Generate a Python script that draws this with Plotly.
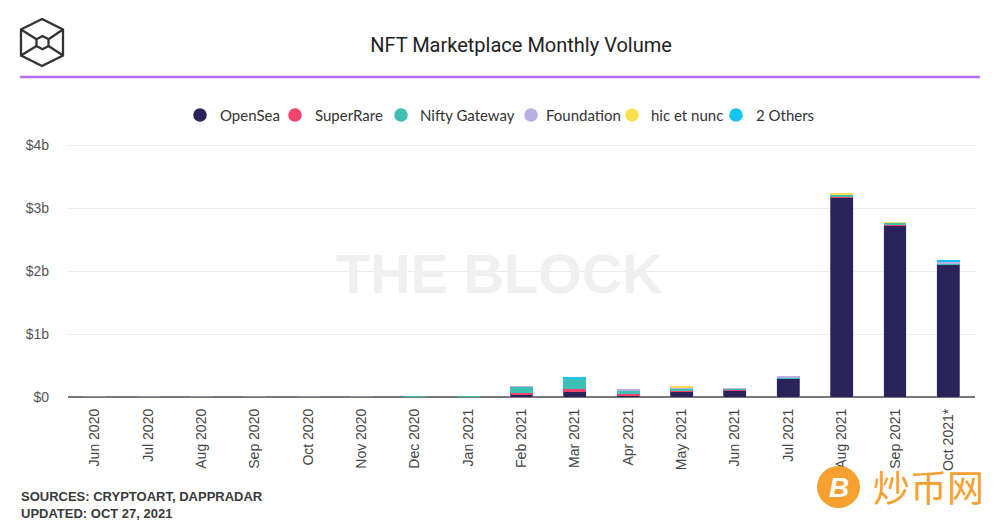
import plotly.graph_objects as go

months = ["Jun 2020", "Jul 2020", "Aug 2020", "Sep 2020", "Oct 2020", "Nov 2020",
          "Dec 2020", "Jan 2021", "Feb 2021", "Mar 2021", "Apr 2021", "May 2021",
          "Jun 2021", "Jul 2021", "Aug 2021", "Sep 2021", "Oct 2021*"]

# values in billions of USD
opensea = [0.001, 0.001, 0.001, 0.002, 0.002, 0.002, 0.003, 0.004, 0.045, 0.085,
           0.030, 0.090, 0.110, 0.290, 3.170, 2.730, 2.100]
superrare = [0.0, 0.0, 0.0, 0.0, 0.0, 0.0, 0.0, 0.0, 0.025, 0.045,
             0.015, 0.006, 0.003, 0.006, 0.012, 0.015, 0.012]
nifty = [0.0, 0.0, 0.0, 0.0, 0.0, 0.0, 0.012, 0.010, 0.090, 0.160,
         0.065, 0.040, 0.022, 0.008, 0.030, 0.020, 0.015]
foundation = [0.0, 0.0, 0.0, 0.0, 0.0, 0.0, 0.0, 0.0, 0.004, 0.005,
              0.025, 0.008, 0.003, 0.014, 0.0, 0.0, 0.010]
hicetnunc = [0.0, 0.0, 0.0, 0.0, 0.0, 0.0, 0.0, 0.0, 0.0, 0.0,
             0.0, 0.016, 0.0, 0.0, 0.014, 0.010, 0.0]
others = [0.0, 0.0, 0.0, 0.0, 0.0, 0.0, 0.0, 0.0, 0.0, 0.012,
          0.0, 0.0, 0.0, 0.0, 0.0, 0.0, 0.040]

series_names = ["OpenSea", "SuperRare", "Nifty Gateway", "Foundation", "hic et nunc", "2 Others"]
series_vals = [opensea, superrare, nifty, foundation, hicetnunc, others]
colors = ["#2a235a", "#f1436b", "#3dbfb3", "#b8afe3", "#fde04f", "#17c3f0"]

ytick_vals = [0, 1, 2, 3, 4]
ytick_text = ["$0", "$1b", "$2b", "$3b", "$4b"]

# page has an 8px body margin: work in reference pixels, shift by the offset
OFF = 8
W, H = 1000 - OFF, 525 - OFF
L = 68 - OFF
R = W - (975 - OFF)
T = 142 - OFF
B = H - (397 - OFF)
PW, PH = W - L - R, H - T - B


def px(x):
    return (x - OFF - L) / PW


def py(y):
    return (H - B - (y - OFF)) / PH


fig = go.Figure()
for k, (name, vals, col) in enumerate(zip(series_names, series_vals, colors)):
    edge = dict(color="rgba(190,184,232,0.6)", width=0.6) if k == 0 else dict(width=0)
    fig.add_trace(go.Bar(
        x=months, y=vals, name=name, showlegend=False,
        marker=dict(color=col, line=edge),
    ))

shapes = []
# purple separator line
shapes.append(dict(type="line", xref="paper", yref="paper",
                   x0=px(20), x1=px(980), y0=py(77), y1=py(77),
                   line=dict(color="#b56ef2", width=2.5)))


def path_of(pts, close=True):
    s = "M " + " L ".join(f"{px(a):.5f},{py(b):.5f}" for a, b in pts)
    return s + (" Z" if close else "")


# logo
outer = [(42, 19), (63, 29.5), (63, 55.5), (42, 66), (21, 55.5), (21, 29.5)]
inner = [(42.5, 36), (48.5, 39.2), (48.5, 46), (42.5, 49.3), (36.5, 46), (36.5, 39.2)]
logo_line = dict(color="#333333", width=2.3)
shapes.append(dict(type="path", xref="paper", yref="paper", path=path_of(outer), line=logo_line))
shapes.append(dict(type="path", xref="paper", yref="paper", path=path_of(inner), line=logo_line))
for o, i in [((21, 29.5), (36.5, 39.2)), ((63, 29.5), (48.5, 39.2)),
             ((21, 55.5), (36.5, 46)), ((63, 55.5), (48.5, 46))]:
    shapes.append(dict(type="path", xref="paper", yref="paper",
                       path=path_of([o, i], close=False), line=logo_line))

# custom legend (circle markers)
leg_marker_x = [200, 295, 401, 531, 632, 736]
leg_text_x = [218, 313, 418, 544, 649, 754]
leg_y = 115
rad = 6.8
annotations = []
for name, col, mx, tx in zip(series_names, colors, leg_marker_x, leg_text_x):
    shapes.append(dict(type="circle", xref="paper", yref="paper",
                       x0=px(mx - rad), x1=px(mx + rad), y0=py(leg_y + rad), y1=py(leg_y - rad),
                       fillcolor=col, line=dict(width=0)))
    annotations.append(dict(text=name, xref="paper", yref="paper", x=px(tx), y=py(leg_y),
                            xanchor="left", yanchor="middle", showarrow=False,
                            font=dict(family="Lato, Open Sans", size=15, color="#333333")))

# orange coin watermark
shapes.append(dict(type="circle", xref="paper", yref="paper",
                   x0=px(817), x1=px(860), y0=py(508), y1=py(466),
                   fillcolor="#f5a02f", line=dict(width=0)))

annotations += [
    dict(text="<b>THE BLOCK</b>", xref="paper", yref="paper", x=px(499), y=py(273),
         showarrow=False, font=dict(family="Liberation Sans", size=56, color="#f0f0f0"),
         xanchor="center", yanchor="middle"),
    dict(text="<b>SOURCES: CRYPTOART, DAPPRADAR</b><br><b>UPDATED: OCT 27, 2021</b>",
         xref="paper", yref="paper", x=px(19), y=py(487), xanchor="left", yanchor="top",
         align="left", showarrow=False,
         font=dict(family="Liberation Sans", size=13, color="#3a3a3a")),
    dict(text="<b><i>B</i></b>", xref="paper", yref="paper", x=px(839), y=py(487),
         showarrow=False, font=dict(family="Liberation Sans", size=28, color="white"),
         xanchor="center", yanchor="middle"),
    dict(text="炒币网", xref="paper", yref="paper", x=px(928), y=py(486),
         showarrow=False, font=dict(family="Noto Sans CJK SC", size=37, color="#f5a02f"),
         xanchor="center", yanchor="middle"),
]

fig.update_layout(
    width=W, height=H,
    margin=dict(l=L, r=R, t=T, b=B, autoexpand=False),
    paper_bgcolor="white", plot_bgcolor="white",
    barmode="stack", bargap=0.57,
    showlegend=False,
    title=dict(text="NFT Marketplace Monthly Volume", x=(521 - OFF) / W, xanchor="center",
               y=1 - (45 - OFF) / H, yanchor="middle",
               font=dict(family="Roboto", size=20, color="#222222")),
    xaxis=dict(type="category", tickangle=-90, showgrid=False, showline=False,
               ticks="", ticklabelstandoff=8,
               tickfont=dict(family="Liberation Sans", size=14, color="#444444")),
    yaxis=dict(range=[0, 4.05], tickvals=ytick_vals, ticktext=ytick_text,
               showgrid=True, gridcolor="#ececec", gridwidth=1,
               zeroline=True, zerolinecolor="#777777", zerolinewidth=2,
               ticks="", ticklabelstandoff=18,
               tickfont=dict(family="Liberation Sans", size=14, color="#555555")),
    shapes=shapes, annotations=annotations,
    font=dict(family="Liberation Sans"),
)

fig.write_html("out.html")
